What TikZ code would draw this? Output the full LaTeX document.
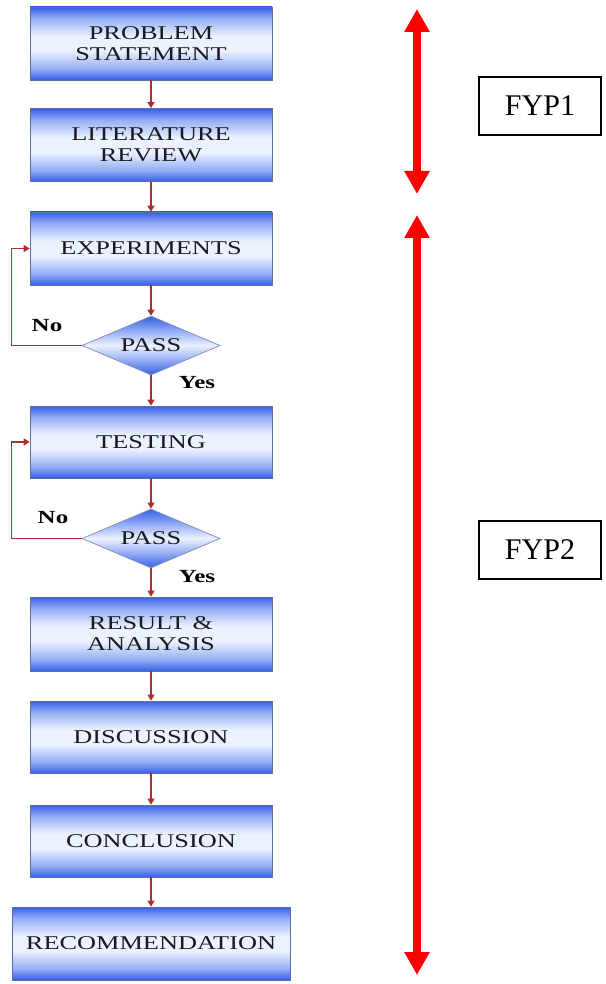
\documentclass[tikz,border=0pt]{standalone}
\usepackage{fontspec}
\setmainfont{Liberation Serif}
\newfontfamily\boxfont[FakeStretch=1.35]{Liberation Serif}
\usetikzlibrary{shapes.geometric,arrows.meta}
\definecolor{bdark}{RGB}{55,95,232}
\definecolor{bmid}{RGB}{150,175,245}
\definecolor{blight}{RGB}{236,241,255}
\definecolor{bborder}{RGB}{95,110,160}
\definecolor{conn}{RGB}{175,45,45}
\definecolor{txt}{RGB}{25,25,35}
\pgfdeclareverticalshading{boxshade}{100bp}{color(0bp)=(bdark); color(25bp)=(bdark); color(33bp)=(bmid); color(45bp)=(blight); color(55bp)=(blight); color(67bp)=(bmid); color(75bp)=(bdark); color(100bp)=(bdark)}
\pgfdeclareverticalshading{diashade}{100bp}{color(0bp)=(bdark); color(25bp)=(bdark); color(38bp)=(bmid); color(50bp)=(blight); color(62bp)=(bmid); color(75bp)=(bdark); color(100bp)=(bdark)}
\tikzset{
  stepbox/.style={shading=boxshade, draw=bborder, line width=0.7pt, minimum width=242pt, minimum height=73pt, inner sep=0pt, align=center, text=txt, font=\boxfont\fontsize{19.5}{21}\selectfont},
  decide/.style={diamond, shading=diashade, draw=bborder!80, line width=0.7pt, minimum width=138pt, minimum height=59pt, inner sep=0pt, aspect=2.34, text=txt, font=\boxfont\fontsize{19.5}{21}\selectfont},
  conn/.style={draw=conn, line width=1.3pt, -{Triangle[width=7pt,length=6pt]}},
  lbl/.style={font=\boxfont\bfseries\fontsize{18.5}{20}\selectfont, text=black, inner sep=0pt},
  phase/.style={draw=black, line width=2pt, minimum width=122pt, minimum height=58pt, inner sep=0pt, font=\fontsize{30}{32}\selectfont},
  bigarrow/.style={draw=red, line width=8pt, {Triangle[width=24pt,length=23pt]}-{Triangle[width=24pt,length=23pt]}}
}
\begin{document}
\begin{tikzpicture}[x=1pt,y=-1pt]
\useasboundingbox (0,0) rectangle (605,984);
\node[stepbox] (ps) at (151,43.5) {PROBLEM\\STATEMENT};
\node[stepbox] (lr) at (151,145) {LITERATURE\\REVIEW};
\node[stepbox] (exp) at (151,248.5) {EXPERIMENTS};
\node[decide] (p1) at (151,345.5) {PASS};
\node[stepbox, minimum height=72pt] (test) at (151,442) {TESTING};
\node[decide] (p2) at (151,538.5) {PASS};
\node[stepbox, minimum height=74pt] (res) at (151,634) {RESULT \&\\ANALYSIS};
\node[stepbox, minimum height=72pt] (disc) at (151,737) {DISCUSSION};
\node[stepbox, minimum height=72pt] (conc) at (151,841) {CONCLUSION};
\node[stepbox, minimum width=278pt] (rec) at (151,943.5) {RECOMMENDATION};

\draw[conn] (ps) -- (lr);
\draw[conn] (lr) -- (exp);
\draw[conn] (exp) -- (p1);
\draw[conn] (p1) -- (test);
\draw[conn] (test) -- (p2);
\draw[conn] (p2) -- (res);
\draw[conn] (res) -- (disc);
\draw[conn] (disc) -- (conc);
\draw[conn] (conc) -- (rec);
\draw[conn] (p1.west) -- ++(-70,0) |- (exp.west);
\draw[conn] (p2.west) -- ++(-70,0) |- (test.west);

\node[lbl] (no1) at (47,326) {No};
\node[lbl] (yes1) at (197,383) {Yes};
\node[lbl] (no2) at (53,518) {No};
\node[lbl] (yes2) at (197,577) {Yes};

\coordinate (a1t) at (417,9);
\coordinate (a1b) at (417,194);
\coordinate (a2t) at (417,215);
\coordinate (a2b) at (417,975);
\draw[bigarrow] (a1t) -- (a1b);
\draw[bigarrow] (a2t) -- (a2b);
\node[phase] (f1) at (540,106) {FYP1};
\node[phase] (f2) at (540,550) {FYP2};
\end{tikzpicture}
\end{document}
